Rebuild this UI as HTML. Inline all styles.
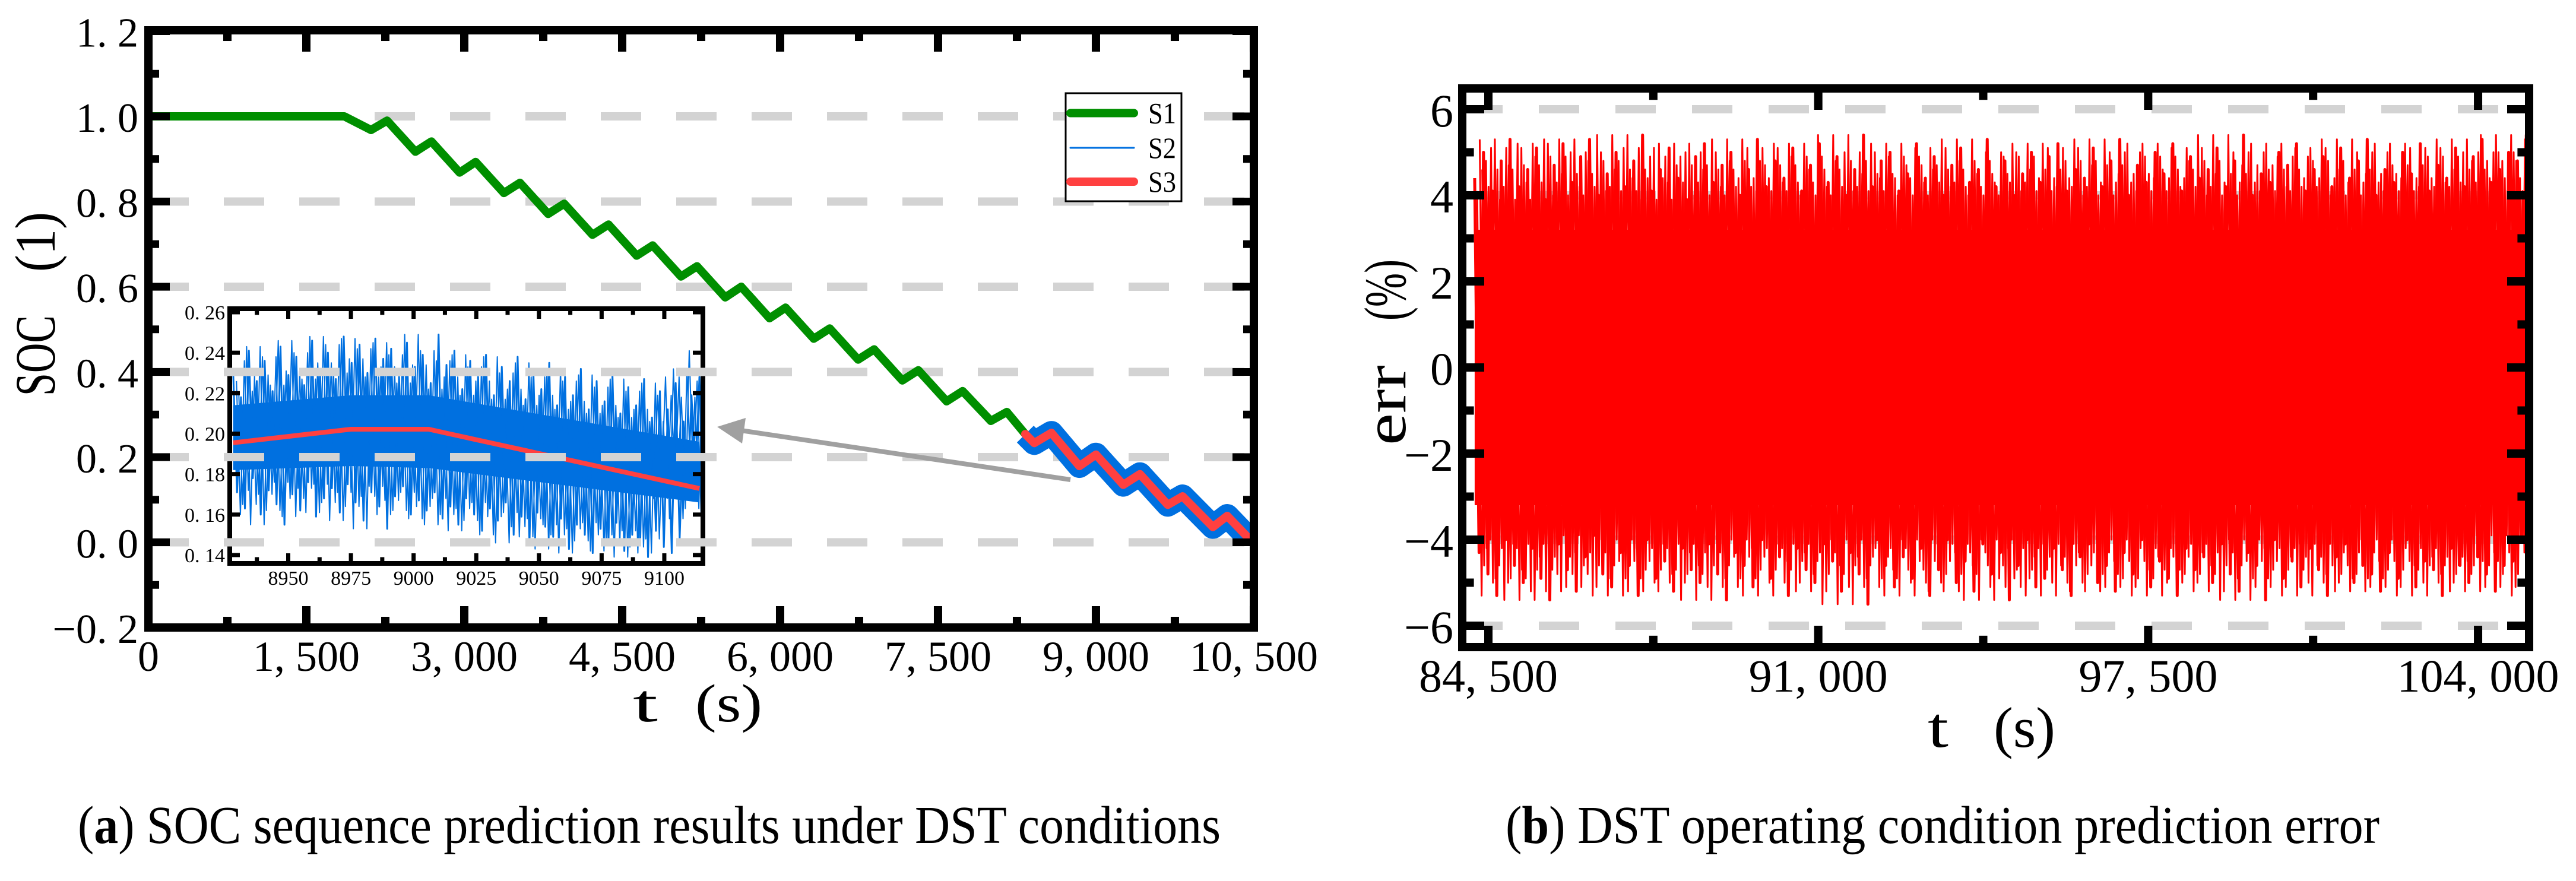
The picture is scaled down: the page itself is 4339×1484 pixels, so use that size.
<!DOCTYPE html>
<html><head><meta charset="utf-8"><title>SOC prediction and error charts</title>
<style>html,body{margin:0;padding:0;background:#fff}svg{display:block}text{font-family:"Liberation Serif","Noto Serif CJK SC",serif;fill:#000}</style>
</head><body>
<svg id="fig" xmlns="http://www.w3.org/2000/svg" width="4339" height="1484" viewBox="0 0 4339 1484" font-family="Liberation Serif, serif">
<defs>
<clipPath id="clipA"><rect x="257" y="58" width="1848" height="992"/></clipPath>
<clipPath id="clipI"><rect x="391" y="524" width="789" height="421"/></clipPath>
<clipPath id="clipB"><rect x="2470" y="156" width="1783" height="927"/></clipPath>
</defs>
<g id="chartA"></g>
<g id="chartB"></g>
<text transform="translate(92,667) rotate(-90)" font-size="96" textLength="136" lengthAdjust="spacingAndGlyphs">SOC</text>
<text transform="translate(92,458) rotate(-90)" font-size="96" textLength="101" lengthAdjust="spacingAndGlyphs">(1)</text>
<text x="1066" y="1215" font-size="90" textLength="42" lengthAdjust="spacingAndGlyphs">t</text>
<text x="1171" y="1215" font-size="90" textLength="113" lengthAdjust="spacingAndGlyphs">(s)</text>
<text transform="translate(2367,750) rotate(-90)" font-size="100" textLength="135" lengthAdjust="spacingAndGlyphs">err</text>
<text transform="translate(2367,540) rotate(-90)" font-size="100" textLength="103" lengthAdjust="spacingAndGlyphs">(%)</text>
<text x="3247" y="1258" font-size="96" textLength="35" lengthAdjust="spacingAndGlyphs">t</text>
<text x="3358" y="1258" font-size="96" textLength="104" lengthAdjust="spacingAndGlyphs">(s)</text>
<text x="131" y="1420" font-size="90" textLength="1925" lengthAdjust="spacingAndGlyphs">(<tspan font-weight="bold">a</tspan>) SOC sequence prediction results under DST conditions</text>
<text x="2536" y="1420" font-size="90" textLength="1472" lengthAdjust="spacingAndGlyphs">(<tspan font-weight="bold">b</tspan>) DST operating condition prediction error</text>
</svg>
<script>
// ---- Chart (a) data ----
const s1T = [0,1861,2115,2267,2536,2688,2956,3108,3377,3529,3797,3949,4218,4370,4638,4790,5059,5211,5479,5631,5900,6052,6320,6472,6741,6893,7161,7313,7582,7734,8002,8154,8329];
const s1SOC = [1.0,1.0,0.968,0.990,0.917,0.941,0.868,0.893,0.820,0.844,0.771,0.795,0.722,0.746,0.673,0.697,0.624,0.648,0.575,0.600,0.526,0.551,0.478,0.502,0.429,0.453,0.380,0.404,0.331,0.355,0.285,0.306,0.254];
const s3T = [8329,8414,8577,8843,9000,9260,9418,9683,9823,10111,10247,10438];
const s3SOC = [0.254,0.233,0.257,0.179,0.206,0.135,0.160,0.088,0.108,0.036,0.062,0.013];
const aYTicks = [-0.2,0,0.2,0.4,0.6,0.8,1.0,1.2];
const aYLabels = ["\u22120. 2","0. 0","0. 2","0. 4","0. 6","0. 8","1. 0","1. 2"];
const aXTicks = [0,1500,3000,4500,6000,7500,9000,10500];
const aXLabels = ["0","1, 500","3, 000","4, 500","6, 000","7, 500","9, 000","10, 500"];
const aGrid = [0,0.2,0.4,0.6,0.8,1.0];
const legendNames = ["S1","S2","S3"];
// inset data
const insetRedT = [8928,8975,9006,9025,9114];
const insetRedSOC = [0.1955,0.2022,0.2022,0.197,0.1729];
const insetCoreT = [8928,8975,9006,9114];
const insetCoreHi = [0.214,0.219,0.219,0.196];
const insetCoreLo = [0.182,0.184,0.183,0.166];
const insetRange = [8928,9114];
const insetHi = [0.232,0.218,0.241,0.226,0.236,0.221,0.243,0.229,0.238,0.224,0.246,0.231,0.240,0.227,0.248,0.235,0.244,0.230,0.247,0.237,0.242,0.228,0.245,0.233,0.239,0.225,0.249,0.234,0.241,0.222,0.236,0.228,0.239,0.219,0.233,0.226,0.238,0.217,0.230,0.222,0.235,0.214,0.228,0.219,0.232,0.212,0.226,0.216,0.229,0.210,0.223,0.214,0.227,0.208,0.221,0.212,0.225,0.206,0.219,0.228];
const insetLo = [0.168,0.176,0.158,0.171,0.163,0.178,0.160,0.172,0.165,0.155,0.170,0.162,0.176,0.159,0.168,0.173,0.161,0.175,0.166,0.157,0.171,0.164,0.153,0.169,0.174,0.160,0.167,0.162,0.171,0.158,0.164,0.155,0.168,0.160,0.152,0.163,0.157,0.166,0.150,0.159,0.146,0.161,0.154,0.149,0.158,0.143,0.155,0.150,0.141,0.153,0.147,0.156,0.142,0.150,0.145,0.139,0.152,0.144,0.141,0.148];
const inYTicks = [0.14,0.16,0.18,0.20,0.22,0.24,0.26];
const inYLabels = ["0. 14","0. 16","0. 18","0. 20","0. 22","0. 24","0. 26"];
const inXTicks = [8950,8975,9000,9025,9050,9075,9100];
const inXLabels = ["8950","8975","9000","9025","9050","9075","9100"];
// ---- Chart (b) data ----
const errRange = [84230,104950];
const errCoreT = [84230,104950];
const errCoreHi = [3.2,3.2];
const errCoreLo = [-3.2,-3.2];
const errHi = [4.4,5.0,4.1,4.8,5.3,4.2,4.6,5.1,3.9,4.7,5.2,4.3,4.9,5.3,4.0,4.5,5.0,4.2,4.8,5.4,4.1,4.6,5.1,4.4,3.9,4.9,5.2,4.3,4.7,5.0,4.0,4.6,5.3,4.2,4.8,4.4,5.1,4.1,4.7,5.2,4.3,4.9,4.0,4.6,5.4,4.2,4.8,5.0,4.1,4.5,5.2,4.4,4.9,4.0,4.7,5.1,4.3,4.6,5.3,4.2,4.8,4.0,4.5,5.0,4.3,4.9,5.2,4.1,4.6,4.4,5.1,4.2,4.8,5.3,4.0,4.7,4.3,5.0,4.5,5.2,4.1,4.9,4.4,4.6,5.1,4.2,4.8,5.4,4.0,4.5,4.3,5.0,4.7,5.2,4.1,4.6,4.9,4.2,5.1,4.4,4.8,5.3,4.0,4.6,4.3,5.0,4.5,5.2,4.1,4.7,4.4,5.1,4.2,4.9,5.3,4.3,4.6,5.0,4.8,5.4];
const errLo = [-4.5,-3.9,-5.1,-4.3,-4.8,-5.3,-4.0,-4.6,-5.0,-4.2,-4.9,-5.4,-4.1,-4.7,-5.2,-4.4,-3.9,-4.8,-5.1,-4.3,-4.6,-5.3,-4.0,-4.9,-4.5,-5.2,-4.2,-4.7,-5.0,-4.1,-4.8,-5.4,-4.3,-4.6,-5.1,-4.0,-4.9,-4.4,-5.3,-4.2,-4.7,-5.0,-4.1,-4.5,-5.2,-4.3,-4.8,-5.5,-4.0,-4.6,-5.1,-4.4,-4.9,-4.2,-5.3,-4.7,-4.0,-5.0,-4.5,-5.2,-4.1,-4.8,-4.3,-5.4,-4.6,-4.0,-5.1,-4.9,-4.2,-4.7,-5.3,-4.4,-4.1,-5.0,-4.6,-5.2,-4.3,-4.8,-4.0,-5.1,-4.5,-4.9,-5.3,-4.2,-4.7,-4.4,-5.0,-4.1,-4.8,-5.2,-4.3,-4.6,-5.4,-4.0,-4.9,-4.5,-5.1,-4.2,-4.7,-5.3,-4.4,-4.1,-5.0,-4.6,-4.8,-5.2,-4.3,-4.9,-4.0,-5.1,-4.5,-4.7,-5.3,-4.2,-4.6,-5.0,-4.4,-4.8,-5.2,-4.6];
const bYTicks = [-6,-4,-2,0,2,4,6];
const bYLabels = ["\u22126","\u22124","\u22122","0","2","4","6"];
const bXTicks = [84500,91000,97500,104000];
const bXLabels = ["84, 500","91, 000","97, 500","104, 000"];

const NS = "http://www.w3.org/2000/svg";
function mk(parent, tag, attrs){const e=document.createElementNS(NS,tag);for(const k in attrs)e.setAttribute(k,attrs[k]);parent.appendChild(e);return e;}
const ax = t => 250 + t*0.17733;
const ay = s => 913.5 - 717.5*s;
const ix = t => 485.5 + (t-8950)*4.223;
const iy = s => 526 + (0.26-s)*3408;
const bx = t => 2507 + (t-84500)*0.08549;
const by = v => 619 - 72.5*v;
const GRID = "#d3d3d3";

function zig(parent, hi, lo, range, X, Y, color, w, shift, name){
  const n = Math.min(hi.length, lo.length);
  const dt = (range[1]-range[0])/(n-1);
  const pts=[];
  for(let i=0;i<n;i++){
    const j = (i+shift)%n;
    const t=range[0]+i*dt+shift*dt/7;
    pts.push(X(t)+','+Y(hi[j]));
    pts.push(X(t+dt/2)+','+Y(lo[(j+3)%n]));
  }
  const z = mk(parent,'polyline',{points:pts.join(' '),fill:'none',stroke:color,'stroke-width':w,'stroke-linejoin':'round'});
  
  
}

const A = document.getElementById('chartA');
// ---- inset ----
const inset = mk(A,'g',{});


const ibg = mk(inset,'rect',{x:387,y:520,width:797,height:429,fill:'#fff'});


const ig = mk(inset,'g',{'clip-path':'url(#clipI)'});


let corePts = insetCoreT.map((t,i)=>ix(t)+','+iy(insetCoreHi[i]));
corePts = corePts.concat(insetCoreT.map((t,i)=>ix(t)+','+iy(insetCoreLo[i])).reverse());
const icore = mk(ig,'polygon',{points:corePts.join(' '),fill:'#0070e0'});


zig(ig, insetHi, insetLo, insetRange, ix, iy, '#0070e0', 3, 0, 'inset-s2-line');
zig(ig, insetHi, insetLo, insetRange, ix, iy, '#0070e0', 2, 3, 'inset-s2-line-b');
zig(ig, insetHi, insetLo, insetRange, ix, iy, '#0070e0', 2, 5, 'inset-s2-line-c');
const ired = mk(ig,'polyline',{points:insetRedT.map((t,i)=>ix(t)+','+iy(insetRedSOC[i])).join(' '),fill:'none',stroke:'#ff4040','stroke-width':8});


const iframe = mk(inset,'rect',{x:387,y:520,width:797,height:429,fill:'none',stroke:'#000','stroke-width':8});


inYTicks.forEach((v,i)=>{
  const tk = mk(inset,'line',{x1:391,x2:404,y1:iy(v),y2:iy(v),stroke:'#000','stroke-width':7});
  
  
  const tk2 = mk(inset,'line',{x1:1180,x2:1167,y1:iy(v),y2:iy(v),stroke:'#000','stroke-width':7});
  
  
  const lb = mk(inset,'text',{x:379,y:iy(v)+12,'font-size':34,'text-anchor':'end'});
  lb.textContent = inYLabels[i];
  
  
});
inXTicks.forEach((t,i)=>{
  [[945,932],[524,537]].forEach(p=>{
    const tk = mk(inset,'line',{x1:ix(t),x2:ix(t),y1:p[0],y2:p[1],stroke:'#000','stroke-width':7});
    
    
    const mt = mk(inset,'line',{x1:ix(t-12.5),x2:ix(t-12.5),y1:p[0],y2:p[0]+(p[1]-p[0])*0.5,stroke:'#000','stroke-width':7});
    
    
  });
  const lb = mk(inset,'text',{x:ix(t),y:985,'font-size':34,'text-anchor':'middle'});
  lb.textContent = inXLabels[i];
  
  
});

// ---- main grid ----
aGrid.forEach(v=>{
  const g = mk(A,'line',{x1:250,x2:2112,y1:ay(v),y2:ay(v),stroke:GRID,'stroke-width':14,'stroke-dasharray':'68 59'});
  
  
});
const pa = mk(A,'g',{'clip-path':'url(#clipA)'});


const s3pts = s3T.map((t,i)=>ax(t)+','+ay(s3SOC[i])).join(' ');
const s2 = mk(pa,'polyline',{points:s3pts,fill:'none',stroke:'#0070e0','stroke-width':40,'stroke-linejoin':'round'});


const s1 = mk(pa,'polyline',{points:s1T.map((t,i)=>ax(t)+','+ay(s1SOC[i])).join(' '),fill:'none',stroke:'#008f00','stroke-width':14,'stroke-linejoin':'round'});


const s3 = mk(pa,'polyline',{points:s3pts,fill:'none',stroke:'#ff4040','stroke-width':14,'stroke-linejoin':'round','stroke-linecap':'round'});



// arrow
const arr = mk(A,'line',{x1:1803,y1:808,x2:1248,y2:725,stroke:'#a0a0a0','stroke-width':8});


const ah = mk(A,'polygon',{points:'1208,719 1256,704 1250,747',fill:'#a0a0a0'});



// frame & ticks
const fa = mk(A,'rect',{x:250,y:51,width:1862,height:1006,fill:'none',stroke:'#000','stroke-width':14});


aYTicks.forEach((v,i)=>{
  [[257,286],[2105,2076]].forEach(p=>{
    const tk = mk(A,'line',{x1:p[0],x2:p[1],y1:ay(v),y2:ay(v),stroke:'#000','stroke-width':13});
    
    
    if(v<1.2){
      const mt = mk(A,'line',{x1:p[0],x2:p[0]+(p[1]-p[0])*0.38,y1:ay(v+0.1),y2:ay(v+0.1),stroke:'#000','stroke-width':13});
      
      
    }
  });
  const lb = mk(A,'text',{x:233,y:ay(v)+26,'font-size':70,'text-anchor':'end'});
  lb.textContent = aYLabels[i];
  
  
});
aXTicks.forEach((t,i)=>{
  [[1050,1021],[58,87]].forEach(p=>{
    const tk = mk(A,'line',{x1:ax(t),x2:ax(t),y1:p[0],y2:p[1],stroke:'#000','stroke-width':14});
    
    
    if(t<10500){
      const mt = mk(A,'line',{x1:ax(t+750),x2:ax(t+750),y1:p[0],y2:p[0]+(p[1]-p[0])*0.38,stroke:'#000','stroke-width':14});
      
      
    }
  });
  const lb = mk(A,'text',{x:ax(t),y:1130,'font-size':72,'text-anchor':'middle'});
  lb.textContent = aXLabels[i];
  
  
});

// legend
const lg = mk(A,'g',{});


const lbox = mk(lg,'rect',{x:1795,y:157,width:195,height:182,fill:'#fff',stroke:'#000','stroke-width':3});


const lstyles = [['#008f00',14,190.5],['#0070e0',3,249],['#ff4040',14,306]];
legendNames.forEach((n,i)=>{
  const st = lstyles[i];
  const ln = mk(lg,'line',{x1:1803,x2:1910,y1:st[2],y2:st[2],stroke:st[0],'stroke-width':st[1],'stroke-linecap':'round'});
  
  
  const tx = mk(lg,'text',{x:1934,y:st[2]+17,'font-size':50,textLength:47,lengthAdjust:'spacingAndGlyphs'});
  tx.textContent = n;
  
  
});

// ---- Chart (b) ----
const B = document.getElementById('chartB');
bYTicks.forEach(v=>{
  const g = mk(B,'line',{x1:2463,x2:4260,y1:by(v),y2:by(v),stroke:GRID,'stroke-width':14,'stroke-dasharray':'68 61'});
  
  
});
const pb = mk(B,'g',{'clip-path':'url(#clipB)'});


let bcore = errCoreT.map((t,i)=>bx(t)+','+by(errCoreHi[i]));
bcore = bcore.concat(errCoreT.map((t,i)=>bx(t)+','+by(errCoreLo[i])).reverse());
const bc = mk(pb,'polygon',{points:bcore.join(' '),fill:'#ff0000'});


zig(pb, errHi, errLo, errRange, bx, by, '#ff0000', 5, 0, 'error-series');
zig(pb, errHi, errLo, errRange, bx, by, '#ff0000', 3, 2, 'error-series-b');
zig(pb, errHi, errLo, errRange, bx, by, '#ff0000', 3, 4, 'error-series-c');
zig(pb, errHi, errLo, errRange, bx, by, '#ff0000', 3, 6, 'error-series-d');
const fb = mk(B,'rect',{x:2463,y:149,width:1797,height:941,fill:'none',stroke:'#000','stroke-width':14});


bYTicks.forEach((v,i)=>{
  [[2470,2500],[4253,4223]].forEach(p=>{
    const tk = mk(B,'line',{x1:p[0],x2:p[1],y1:by(v),y2:by(v),stroke:'#000','stroke-width':14});
    
    
    if(v<6){
      const mt = mk(B,'line',{x1:p[0],x2:p[0]+(p[1]-p[0])*0.42,y1:by(v+1),y2:by(v+1),stroke:'#000','stroke-width':14});
      
      
    }
  });
  const lb = mk(B,'text',{x:2448,y:by(v)+29,'font-size':78,'text-anchor':'end'});
  lb.textContent = bYLabels[i];
  
  
});
bXTicks.forEach((t,i)=>{
  [[1083,1054],[156,185]].forEach(p=>{
    const tk = mk(B,'line',{x1:bx(t),x2:bx(t),y1:p[0],y2:p[1],stroke:'#000','stroke-width':14});
    
    
    if(t<104000){
      const mt = mk(B,'line',{x1:bx(t+3250),x2:bx(t+3250),y1:p[0],y2:p[0]+(p[1]-p[0])*0.42,stroke:'#000','stroke-width':14});
      
      
    }
  });
  const lb = mk(B,'text',{x:bx(t),y:1165,'font-size':78,'text-anchor':'middle'});
  lb.textContent = bXLabels[i];
  
  
});
</script>
</body></html>
